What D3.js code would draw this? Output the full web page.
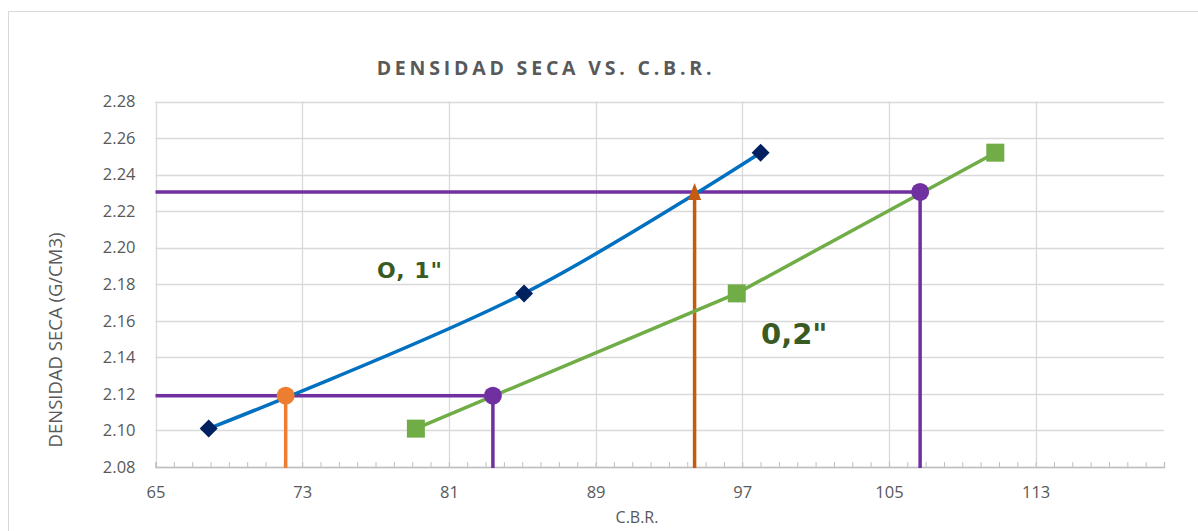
<!DOCTYPE html>
<html><head><meta charset="utf-8">
<script src="https://cdn.jsdelivr.net/npm/d3@7"></script>
<style>
html,body{margin:0;padding:0;background:#fff;}
svg{display:block;}
</style></head>
<body>
<svg id="chart" width="1198" height="531"></svg>
<script>
// ---- data ----
const density = [2.101, 2.175, 2.252];
const cbr01 = [67.9, 85.1, 98.0];      // 0,1"
const cbr02 = [79.2, 96.7, 110.8];     // 0,2"
const refDensity = [2.119, 2.2305];    // target densities
const refCbr01 = [72.1, 94.4];
const refCbr02 = [83.4, 106.7];
const xTicks = [65, 73, 81, 89, 97, 105, 113];
const yTicks = [2.08, 2.10, 2.12, 2.14, 2.16, 2.18, 2.20, 2.22, 2.24, 2.26, 2.28];
const title = "DENSIDAD SECA VS. C.B.R.";
const xTitle = "C.B.R.";
const yTitle = "DENSIDAD SECA (G/CM3)";
const label01 = "O, 1\"";
const label02 = "0,2\"";

const svg = d3.select("#chart");
const W = 1198, H = 531;
const L = 155.5, R = 1164, T = 101.5, B = 467;
const x = d3.scaleLinear().domain([65, 120]).range([L, R]);
const y = d3.scaleLinear().domain([2.08, 2.28]).range([B, T]);
const FONT = "'Open Sans', sans-serif";

// frame
svg.append("rect").attr("x", 8.5).attr("y", 11.5).attr("width", W).attr("height", H)
  .attr("fill", "#fff").attr("stroke", "#d9d9d9").attr("stroke-width", 1);

// gridlines
const grid = svg.append("g");
grid.selectAll(".hg").data(yTicks).join("line")
  .attr("x1", L).attr("x2", R).attr("y1", d => Math.round(y(d)) + 0.5).attr("y2", d => Math.round(y(d)) + 0.5)
  .attr("stroke", "#d9d9d9").attr("stroke-width", 1.3);
grid.selectAll(".vg").data(xTicks).join("line")
  .attr("y1", T).attr("y2", B).attr("x1", d => Math.round(x(d)) + 0.5).attr("x2", d => Math.round(x(d)) + 0.5)
  .attr("stroke", "#d9d9d9").attr("stroke-width", 1.3);

// x axis with minor ticks
const xAxis = d3.axisBottom(x).tickValues(d3.range(65, 121, 1)).tickSize(-5).tickFormat("");
const gx = svg.append("g").attr("transform", `translate(0,${B})`).call(xAxis);
gx.select(".domain").attr("stroke", "#bfbfbf").attr("stroke-width", 1.3);
gx.selectAll(".tick line").attr("stroke", "#bfbfbf");

const xLab = d3.axisBottom(x).tickValues(xTicks).tickSize(0).tickPadding(19).tickFormat(d3.format("d"));
const gxl = svg.append("g").attr("transform", `translate(0,${B})`).call(xLab);
gxl.select(".domain").remove();
gxl.selectAll("text").attr("font-family", FONT).attr("font-size", 16.5).attr("fill", "#595959");

const yLab = d3.axisLeft(y).tickValues(yTicks).tickSize(0).tickPadding(20).tickFormat(d3.format(".2f"));
const gyl = svg.append("g").attr("transform", `translate(${L},0)`).call(yLab);
gyl.select(".domain").remove();
gyl.selectAll("text").attr("font-family", FONT).attr("font-size", 16.5).attr("fill", "#595959");

// titles
svg.append("text").attr("x", 546).attr("y", 75).attr("text-anchor", "middle")
  .attr("font-family", FONT).attr("font-weight", "bold").attr("font-size", 19.5)
  .attr("letter-spacing", "3.8px").attr("fill", "#595959").text(title);
svg.append("text").attr("x", 637).attr("y", 523).attr("text-anchor", "middle")
  .attr("font-family", FONT).attr("font-size", 16).attr("fill", "#595959").text(xTitle);
svg.append("text").attr("transform", "translate(62,340) rotate(-90)").attr("text-anchor", "middle")
  .attr("font-family", FONT).attr("font-size", 18.5).attr("fill", "#595959").text(yTitle);

// reference lines
const ref = svg.append("g").attr("fill", "none").attr("stroke-width", 3.5);
refDensity.forEach((d, i) => {
  ref.append("line").attr("x1", x(65)).attr("x2", x(refCbr02[i])).attr("y1", y(d)).attr("y2", y(d)).attr("stroke", "#7030a0");
  ref.append("line").attr("x1", x(refCbr02[i])).attr("x2", x(refCbr02[i])).attr("y1", y(d)).attr("y2", B + 1).attr("stroke", "#7030a0");
});
ref.append("line").attr("x1", x(refCbr01[0])).attr("x2", x(refCbr01[0])).attr("y1", y(refDensity[0])).attr("y2", B + 1).attr("stroke", "#ed7d31");
ref.append("line").attr("x1", x(refCbr01[1])).attr("x2", x(refCbr01[1])).attr("y1", y(refDensity[1])).attr("y2", B + 1).attr("stroke", "#c55a11");

// series lines
const pts01 = density.map((d, i) => [cbr01[i], d]);
const pts02 = density.map((d, i) => [cbr02[i], d]);
svg.append("path").datum(pts01)
  .attr("d", d3.line().x(d => x(d[0])).y(d => y(d[1])).curve(d3.curveCatmullRom.alpha(0.5)))
  .attr("fill", "none").attr("stroke", "#0070c0").attr("stroke-width", 3.5);
svg.append("path").datum(pts02)
  .attr("d", d3.line().x(d => x(d[0])).y(d => y(d[1])))
  .attr("fill", "none").attr("stroke", "#70ad47").attr("stroke-width", 3.5);

// markers
svg.selectAll(".dia").data(pts01).join("path")
  .attr("transform", d => `translate(${x(d[0])},${y(d[1])})`)
  .attr("d", "M0,-9L9,0L0,9L-9,0Z").attr("fill", "#002060");
svg.selectAll(".sq").data(pts02).join("rect")
  .attr("x", d => x(d[0]) - 9).attr("y", d => y(d[1]) - 9).attr("width", 18).attr("height", 18).attr("fill", "#70ad47");

svg.append("circle").attr("cx", x(refCbr01[0])).attr("cy", y(refDensity[0])).attr("r", 9).attr("fill", "#ed7d31");
refDensity.forEach((d, i) => {
  svg.append("circle").attr("cx", x(refCbr02[i])).attr("cy", y(d)).attr("r", 9).attr("fill", "#7030a0");
});
svg.append("path").attr("transform", `translate(${x(refCbr01[1])},${y(refDensity[1])})`)
  .attr("d", "M0,-9L6.5,8L-6.5,8Z").attr("fill", "#c55a11");

// labels
svg.append("text").attr("x", 377).attr("y", 278).attr("font-family", "'DejaVu Sans', sans-serif")
  .attr("font-weight", "bold").attr("font-size", 22).attr("letter-spacing", "1px").attr("fill", "#3a5a23").text(label01);
svg.append("text").attr("x", 761).attr("y", 344).attr("font-family", "'DejaVu Sans', sans-serif")
  .attr("font-weight", "bold").attr("font-size", 29).attr("fill", "#3a5a23").text(label02);
</script>
</body></html>
